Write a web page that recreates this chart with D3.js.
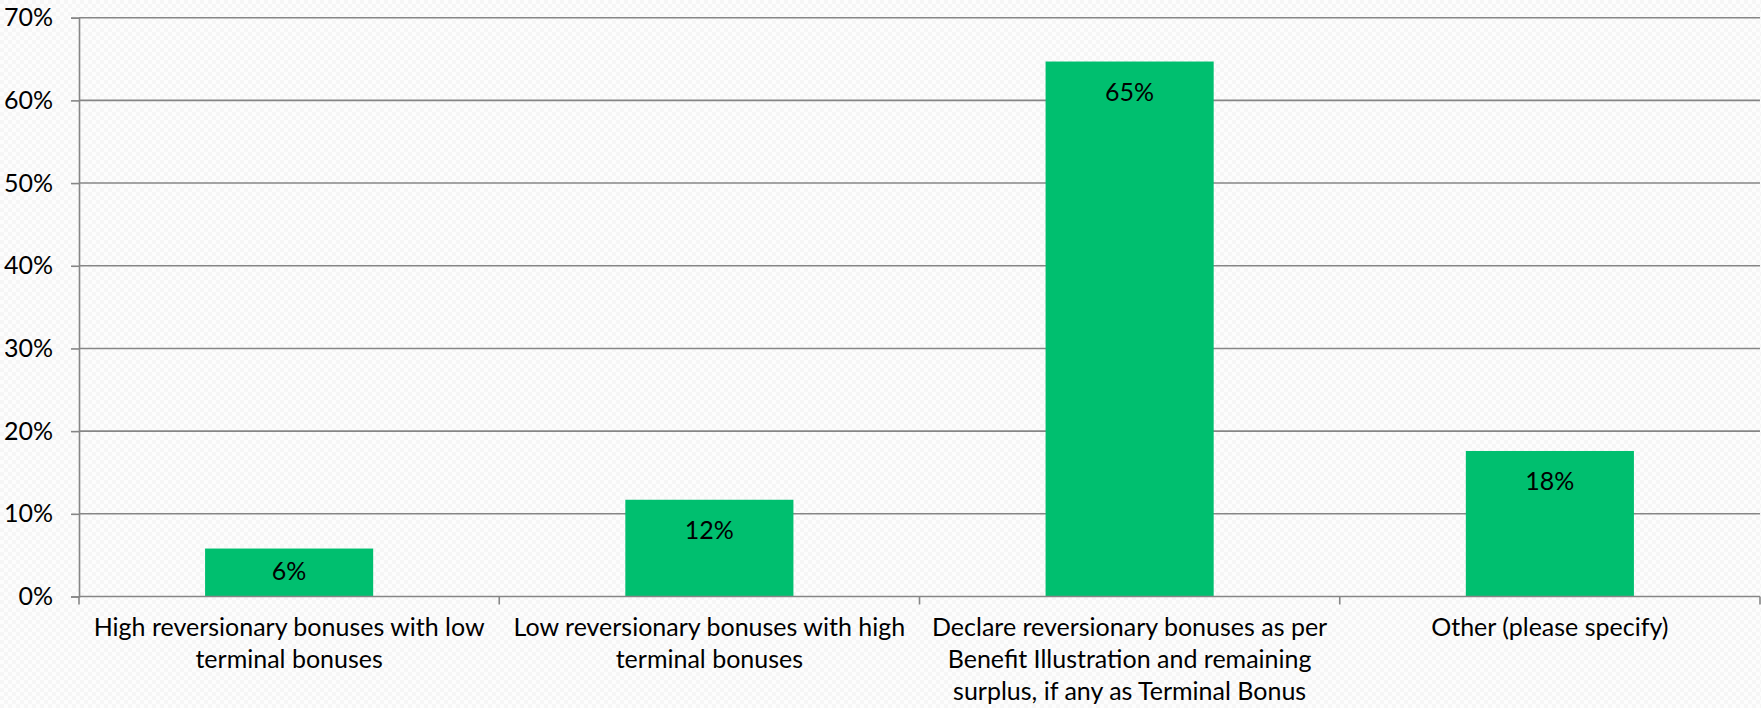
<!DOCTYPE html>
<html>
<head>
<meta charset="utf-8">
<script src="https://cdn.jsdelivr.net/npm/d3@7/dist/d3.min.js"></script>
<style>
  html, body { margin: 0; padding: 0; background: #ffffff; }
  svg { display: block; }
  text { font-family: Lato, "Open Sans", sans-serif; fill: #000; }
</style>
</head>
<body>
<svg id="chart" width="1761" height="708"></svg>
<script>
// Survey responses: bonus declaration approach
const categories = [
  ["High reversionary bonuses with low", "terminal bonuses"],
  ["Low reversionary bonuses with high", "terminal bonuses"],
  ["Declare reversionary bonuses as per", "Benefit Illustration and remaining", "surplus, if any as Terminal Bonus"],
  ["Other (please specify)"]
];
const shares = [0.058, 0.117, 0.647, 0.176];
const yTicks = [0, 0.1, 0.2, 0.3, 0.4, 0.5, 0.6, 0.7];

const W = 1761, H = 708;
const plot = { left: 79, right: 1760, top: 17.7, bottom: 596.5 };
const gridColor = "#868686";
const barColor = "#00BF6F";
const fontSize = 25;
const pct = d3.format(".0%");

const svg = d3.select("#chart");

// faint textured backdrop
const defs = svg.append("defs");
const pat = defs.append("pattern")
  .attr("id", "bgTex").attr("width", 8).attr("height", 8)
  .attr("patternUnits", "userSpaceOnUse");
pat.append("rect").attr("width", 8).attr("height", 8).attr("fill", "#fdfdfd");
pat.append("rect").attr("width", 4).attr("height", 4).attr("fill", "#f6f6f6");
pat.append("rect").attr("x", 4).attr("y", 4).attr("width", 4).attr("height", 4).attr("fill", "#f6f6f6");
svg.append("rect").attr("width", W).attr("height", H).attr("fill", "url(#bgTex)");

const idx = d3.range(categories.length);
const x = d3.scaleBand()
  .domain(idx)
  .range([plot.left, plot.right])
  .paddingInner(0.6)
  .paddingOuter(0.3);

const y = d3.scaleLinear()
  .domain([0, 0.7])
  .range([plot.bottom, plot.top]);

// horizontal gridlines
svg.append("g")
  .selectAll("line")
  .data(yTicks.slice(1))
  .join("line")
  .attr("x1", plot.left).attr("x2", plot.right)
  .attr("y1", d => y(d)).attr("y2", d => y(d))
  .attr("stroke", gridColor).attr("stroke-width", 1.6);

// y axis
const yAxis = svg.append("g")
  .attr("transform", `translate(${plot.left},0)`)
  .call(d3.axisLeft(y).tickValues(yTicks).tickFormat(pct).tickSize(8).tickPadding(18));
yAxis.select(".domain").attr("stroke", gridColor).attr("stroke-width", 1.6);
yAxis.selectAll(".tick line").attr("stroke", gridColor).attr("stroke-width", 1.6);
yAxis.selectAll(".tick text")
  .attr("font-size", fontSize).attr("font-family", "Lato, 'Open Sans', sans-serif").attr("fill", "#000");

// bars
svg.append("g")
  .selectAll("rect")
  .data(shares)
  .join("rect")
  .attr("x", (d, i) => x(i))
  .attr("width", x.bandwidth())
  .attr("y", d => y(d))
  .attr("height", d => y(0) - y(d))
  .attr("fill", barColor);

// value labels at the inside end of each bar; short bars keep them centred
const labelCenter = d => Math.min(y(d) + 30, (y(d) + y(0)) / 2 - 2);
svg.append("g")
  .selectAll("text")
  .data(shares)
  .join("text")
  .attr("x", (d, i) => x(i) + x.bandwidth() / 2)
  .attr("y", d => labelCenter(d) + 9)
  .attr("text-anchor", "middle")
  .attr("font-size", fontSize)
  .text(d => pct(d));

// x axis baseline and category separators
const step = x.step();
const bounds = d3.range(categories.length + 1).map(i => plot.left + i * step);
svg.append("line")
  .attr("x1", plot.left).attr("x2", plot.right)
  .attr("y1", y(0)).attr("y2", y(0))
  .attr("stroke", gridColor).attr("stroke-width", 1.6);
svg.append("g")
  .selectAll("line")
  .data(bounds)
  .join("line")
  .attr("x1", d => d).attr("x2", d => d)
  .attr("y1", y(0)).attr("y2", y(0) + 8)
  .attr("stroke", gridColor).attr("stroke-width", 1.6);

// category labels
const catG = svg.append("g")
  .selectAll("text")
  .data(categories)
  .join("text")
  .attr("text-anchor", "middle")
  .attr("font-size", fontSize)
  .attr("x", (d, i) => x(i) + x.bandwidth() / 2)
  .attr("y", 636);
catG.selectAll("tspan")
  .data(d => d)
  .join("tspan")
  .attr("x", function () { return d3.select(this.parentNode).attr("x"); })
  .attr("dy", (d, i) => i === 0 ? 0 : 32)
  .text(d => d);
</script>
</body>
</html>
